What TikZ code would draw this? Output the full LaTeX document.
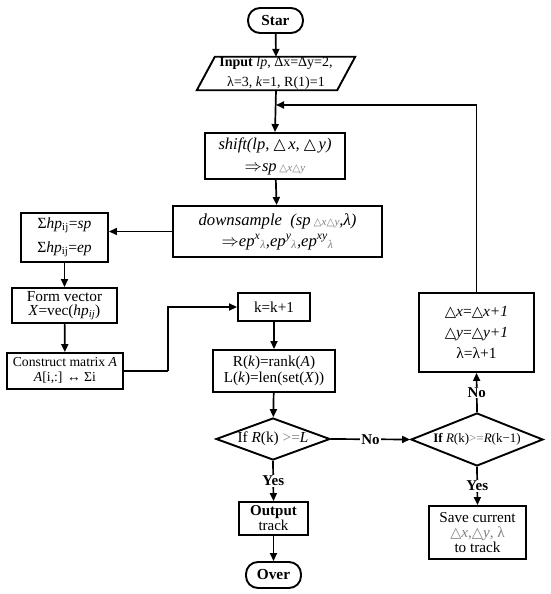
\documentclass[tikz,border=0pt]{standalone}
\usepackage{fontspec}
\setmainfont{Liberation Serif}
\newfontfamily\djf[Scale=0.95]{DejaVu Sans}
\usetikzlibrary{shapes.geometric,arrows.meta}
\newcommand\tri{{\upshape\djf △}}
\newcommand\gtri{{\color{gray}\upshape\djf △}}
\newcommand\fsz[2]{\fontsize{#1}{#2}\selectfont}
\begin{document}
\begin{tikzpicture}[x=1pt,y=-1pt,
  box/.style={draw, line width=1.9pt, rectangle, inner sep=0pt, align=center},
  term/.style={box, rounded corners=12pt},
  dia/.style={draw, diamond, line width=1.9pt, inner sep=0pt},
  ln/.style={line width=1.7pt},
  arr/.style={line width=1.7pt, -{Triangle[length=8pt,width=7pt]}},
  lab/.style={font=\bfseries\fsz{15}{16}, fill=white, inner sep=1pt}
]
\useasboundingbox (0,0) rectangle (550,594);
\fill[white] (0,0) rectangle (550,594);

% nodes
\node[term, minimum width=55pt, minimum height=25pt, font=\bfseries\fsz{15.3}{17}] (star) at (275.5,20.5) {Star};
\node[inner sep=0pt, minimum width=140pt, minimum height=33pt, align=center, font=\fsz{14}{20}] (input) at (276,73.5)
  {\textbf{Input} \textit{lp}, Δx=Δy=2,\\ λ=3, \textit{k}=1, R(1)=1};
\draw[line width=1.9pt] ([xshift=9pt]input.north west) -- ([xshift=9pt]input.north east)
  -- ([xshift=-9pt]input.south east) -- ([xshift=-9pt]input.south west) -- cycle;
\node[box, minimum width=140pt, minimum height=46pt, font=\itshape\fsz{16.5}{22}] (shift) at (275,156)
  {shift(lp, \tri\,x, \tri\,y)\\ $\Rightarrow$sp\,{\fsz{11}{12}\gtri{\color{gray}x}\gtri{\color{gray}y}}};
\node[box, minimum width=209pt, minimum height=51pt, font=\itshape\fsz{16.7}{21}] (down) at (277.5,231.5)
  {downsample\enspace(sp\,{\fsz{11}{12}\gtri{\color{gray}x}\gtri{\color{gray}y}},λ)\\
   $\Rightarrow$ep\textsuperscript{x}\textsubscript{\color{gray}λ},ep\textsuperscript{y}\textsubscript{\color{gray}λ},ep\textsuperscript{xy}\textsubscript{\color{gray}λ}};
\node[box, minimum width=87pt, minimum height=49pt, font=\fsz{15.5}{24}] (sig) at (64.5,237.5)
  {Σ\textit{hp}\textsubscript{ij}=\textit{sp}\\ Σ\textit{hp}\textsubscript{ij}=\textit{ep}};
\node[box, minimum width=105pt, minimum height=35pt, font=\fsz{15.3}{14.5}] (form) at (64.5,305.5)
  {Form vector\\ \textit{X}=vec(\textit{hp\textsubscript{ij}})};
\node[box, minimum width=116pt, minimum height=36pt, font=\fsz{13.7}{15}] (cons) at (65,371)
  {Construct matrix \textit{A}\\ \textit{A}[i,:] ↔ Σi};
\node[box, minimum width=72pt, minimum height=28pt, font=\fsz{15.2}{15}] (kk) at (274,307) {k=k+1};
\node[box, minimum width=122pt, minimum height=42pt, font=\fsz{15.2}{16}] (rk) at (274,371)
  {R(\textit{k})=rank(\textit{A})\\ L(\textit{k})=len(set(\textit{X}))};
\node[dia, minimum width=114pt, minimum height=42pt] (d1) at (273,439) {};
\node[font=\fsz{15.3}{16}, inner sep=0pt] at (d1) {If \textit{R}(k) {\color{gray}>=}\textit{L}};
\node[dia, minimum width=132pt, minimum height=53pt] (d2) at (477,439.5) {};
\node[font=\fsz{13}{15}, inner sep=0pt] at (d2) {\textbf{If} \textit{R}(k){\color{gray}>=}\textit{R}(k−1)};
\node[box, minimum width=115pt, minimum height=79pt, font=\fsz{15.5}{21}] (upd) at (476.5,332.5)
  {\tri\textit{x}=\tri\textit{x+1}\\ \tri\textit{y}=\tri\textit{y+1}\\ λ=λ+1};
\node[box, minimum width=97pt, minimum height=53pt, font=\fsz{15.2}{15}] (save) at (477.5,532.5)
  {Save current\\ {\color{gray}\gtri\textit{x},\gtri\textit{y}, λ}\\ to track};
\node[box, minimum width=69pt, minimum height=33pt, font=\fsz{15}{15}] (out) at (273.5,518.5)
  {\textbf{Output}\\ track};
\node[term, minimum width=55pt, minimum height=26pt, font=\bfseries\fsz{15.3}{17}] (over) at (273.5,575) {Over};

% connectors
\coordinate (fb) at (276,105);
\coordinate (bend) at (168,371);
\draw[arr] (star) -- (input.south |- input.north);
\draw[arr] (input.south) -- (shift.north);
\draw[arr] (upd.north) |- (fb);
\draw[arr] (shift) -- (down);
\draw[arr] (down.west) -- (down.west -| sig.east);
\draw[arr] (sig) -- (form);
\draw[arr] (form) -- (cons);
\draw[ln] (cons.east) -- (bend);
\draw[arr] (bend) |- (kk.west);
\draw[arr] (kk) -- (rk);
\draw[arr] (rk) -- (d1);
\draw[arr] (d1.east) -- node[lab] {No} (d2.west);
\draw[arr] (d1.south) -- node[lab] {Yes} (out.north);
\draw[arr] (out) -- (over);
\draw[arr] (d2.north) -- node[lab] {No} (upd.south);
\draw[arr] (d2.south) -- node[lab] {Yes} (save.north);
\end{tikzpicture}
\end{document}
